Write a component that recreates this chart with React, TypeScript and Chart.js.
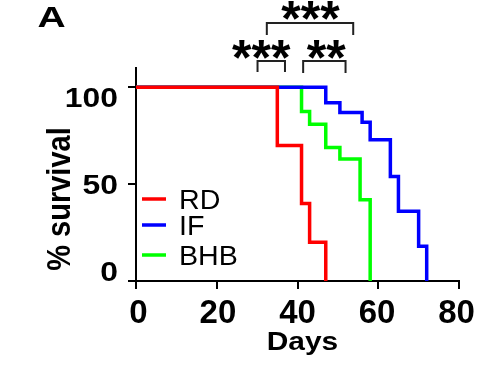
import React, { useEffect, useRef } from "react";
import { Chart, registerables } from "chart.js";

Chart.register(...registerables);

// ---- data ----
const seriesNames = ["RD", "IF", "BHB"];
const seriesColors = ["#ff0000", "#0000ff", "#00ff00"];
const rdDays = [0, 35, 41, 43, 47];
const rdSurvival = [100, 70, 40, 20, 0];
const ifDays = [0, 47, 50.5, 56, 58, 63, 65, 70, 72];
const ifSurvival = [100, 92, 87, 82, 73, 54, 36, 18, 0];
const bhbDays = [0, 41, 43, 47, 50.5, 55.5, 58];
const bhbSurvival = [100, 87.5, 81, 69, 63, 42, 0];
const xTickValues = [0, 20, 40, 60, 80];
const yTickValues = [0, 50, 100];
const significanceLabels = ["***", "**", "***"];
const panelLabel = "A";
const xTitle = "Days";
const yTitle = "% survival";

const FONT = "'Liberation Sans', Arial, sans-serif";

const toPoints = (xs: number[], ys: number[]) => xs.map((x, i) => ({ x, y: ys[i] }));
const seriesDays = [rdDays, ifDays, bhbDays];
const seriesSurv = [rdSurvival, ifSurvival, bhbSurvival];

function drawText(
  ctx: CanvasRenderingContext2D,
  text: string,
  x: number,
  y: number,
  font: string,
  sx: number,
  align: CanvasTextAlign,
  baseline: CanvasTextBaseline
) {
  ctx.save();
  ctx.translate(x, y);
  ctx.scale(sx, 1);
  ctx.font = font;
  ctx.textAlign = align;
  ctx.textBaseline = baseline;
  ctx.fillStyle = "#000";
  ctx.fillText(text, 0, 0);
  ctx.restore();
}

const overlayPlugin = {
  id: "overlay",
  afterDraw(chart: any) {
    const ctx = chart.ctx as CanvasRenderingContext2D;
    const xs = chart.scales.x;
    const ys = chart.scales.y;
    const px = (d: number) => xs.getPixelForValue(d);
    const area = chart.chartArea;
    ctx.save();

    // tick labels
    const xMid = (area.left + area.right) / 2;
    xTickValues.forEach((v) => {
      const x = xMid + (px(v) - xMid) * 0.985;
      drawText(ctx, String(v), x, 323, `bold 33px ${FONT}`, 1, "center", "alphabetic");
    });
    const yMid = ys.getPixelForValue(50);
    yTickValues.forEach((v) => {
      const y = yMid + (ys.getPixelForValue(v) - yMid) * 0.9;
      drawText(ctx, String(v), 118, y + 9.5, `bold 27px ${FONT}`, 1.18, "right", "alphabetic");
    });

    // legend inside plot
    const rows = [199, 225, 255];
    chart.data.datasets.forEach((ds: any, i: number) => {
      const y = rows[i];
      ctx.strokeStyle = ds.borderColor;
      ctx.lineWidth = 3.5;
      ctx.beginPath();
      ctx.moveTo(142, y);
      ctx.lineTo(166, y);
      ctx.stroke();
      drawText(ctx, ds.label, 179, y + 9.5, `27px ${FONT}`, 1.06, "left", "alphabetic");
    });

    // significance brackets
    ctx.strokeStyle = "#222";
    ctx.lineWidth = 2;
    const bracket = (d0: number, d1: number, top: number, bottom: number) => {
      ctx.beginPath();
      ctx.moveTo(px(d0), bottom);
      ctx.lineTo(px(d0), top);
      ctx.lineTo(px(d1), top);
      ctx.lineTo(px(d1), bottom);
      ctx.stroke();
    };
    bracket(30.1, 36.9, 61, 72);
    bracket(41.4, 51.9, 61, 73);
    bracket(32.4, 53.8, 23, 35);

    drawText(ctx, significanceLabels[0], px(31.0), 75, `bold 50px ${FONT}`, 1, "center", "alphabetic");
    drawText(ctx, significanceLabels[1], px(47.1), 75, `bold 50px ${FONT}`, 1, "center", "alphabetic");
    drawText(ctx, significanceLabels[2], px(43.2), 36, `bold 50px ${FONT}`, 1, "center", "alphabetic");

    // panel label
    drawText(ctx, panelLabel, 51.5, 27, `bold 30px ${FONT}`, 1.3, "center", "alphabetic");

    // axis titles
    drawText(ctx, xTitle, xMid + 5, 350, `bold 26px ${FONT}`, 1.15, "center", "alphabetic");
    ctx.save();
    ctx.translate(70, 199);
    ctx.rotate(-Math.PI / 2);
    ctx.scale(1, 1.12);
    ctx.font = `bold 29px ${FONT}`;
    ctx.textAlign = "center";
    ctx.textBaseline = "alphabetic";
    ctx.fillStyle = "#000";
    ctx.fillText(yTitle, 0, 0);
    ctx.restore();

    ctx.restore();
  },
};

export default function App() {
  const ref = useRef<HTMLCanvasElement>(null);

  useEffect(() => {
    if (!ref.current) return;
    const chart = new Chart(ref.current, {
      type: "line",
      data: {
        datasets: seriesNames.map((name, i) => ({
          label: name,
          data: toPoints(seriesDays[i], seriesSurv[i]),
          borderColor: seriesColors[i],
          backgroundColor: seriesColors[i],
          borderWidth: 3.5,
          pointRadius: 0,
          stepped: "before" as const,
          fill: false,
          clip: false as any,
        })),
      },
      options: {
        responsive: false,
        animation: false,
        layout: { padding: { top: 68, right: 30, left: 0, bottom: 0 } },
        plugins: { legend: { display: false }, tooltip: { enabled: false } },
        scales: {
          x: {
            type: "linear",
            min: 0,
            max: 80,
            afterBuildTicks: (s: any) => {
              s.ticks = xTickValues.map((v) => ({ value: v }));
            },
            afterFit: (s: any) => {
              s.height = 89;
            },
            ticks: { display: false },
            grid: {
              drawOnChartArea: false,
              drawTicks: true,
              tickLength: 8,
              color: "#000",
              lineWidth: 2,
            },
            border: { display: true, color: "#000", width: 2 },
          },
          y: {
            type: "linear",
            min: 0,
            max: 110,
            afterBuildTicks: (s: any) => {
              s.ticks = yTickValues.map((v) => ({ value: v }));
            },
            afterFit: (s: any) => {
              s.width = 136;
            },
            ticks: { display: false },
            grid: {
              drawOnChartArea: false,
              drawTicks: true,
              tickLength: 8,
              color: "#000",
              lineWidth: 2,
            },
            border: { display: true, color: "#000", width: 2 },
          },
        },
      },
      plugins: [overlayPlugin],
    } as any);
    return () => chart.destroy();
  }, []);

  return (
    <div style={{ position: "absolute", left: 0, top: 0, width: 489, height: 370, background: "#fff" }}>
      <canvas ref={ref} width={489} height={370} style={{ display: "block", width: 489, height: 370 }} />
    </div>
  );
}
